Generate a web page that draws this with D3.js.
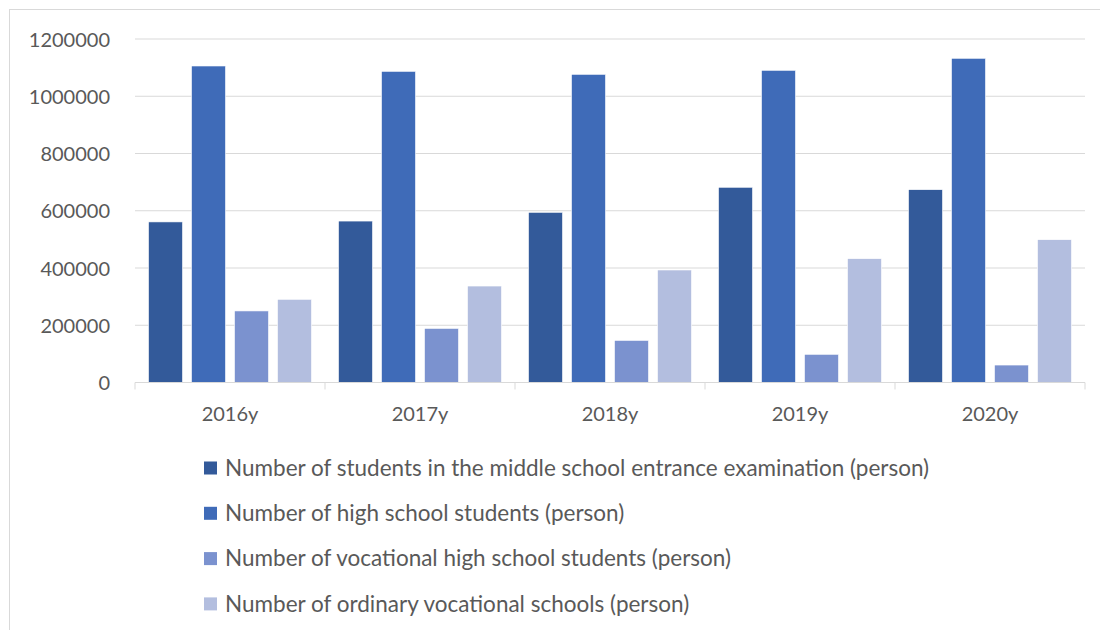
<!DOCTYPE html>
<html>
<head>
<meta charset="utf-8">
<script src="https://cdn.jsdelivr.net/npm/d3@7"></script>
<style>
  body { margin: 0; background: #fff; }
  text { font-family: Lato, "Open Sans", sans-serif; fill: #595959; }
</style>
</head>
<body>
<div id="chart"></div>
<script>
const years = ["2016y", "2017y", "2018y", "2019y", "2020y"];
const seriesNames = [
  "Number of students in the middle school entrance examination (person)",
  "Number of high school students (person)",
  "Number of vocational high school students (person)",
  "Number of ordinary vocational schools (person)"
];
const entranceExam = [561000, 564000, 594500, 682000, 673600];
const highSchool = [1105700, 1087000, 1076600, 1090600, 1132600];
const vocationalHigh = [250000, 189000, 147000, 98500, 61000];
const ordinaryVocational = [290600, 337000, 393000, 432600, 498900];
const yTicks = [0, 200000, 400000, 600000, 800000, 1000000, 1200000];

const colors = ["#335A9A", "#3F6BB8", "#7B92CF", "#B3BEDF"];
const allSeries = [entranceExam, highSchool, vocationalHigh, ordinaryVocational];

const w = 1100, h = 630;
const plotLeft = 135, plotRight = 1085, plotTop = 39, plotBottom = 382.5;

const svg = d3.select("#chart")
  .append("svg")
  .attr("width", w)
  .attr("height", h);

// outer chart border
svg.append("rect")
  .attr("x", 9.5).attr("y", 9.5)
  .attr("width", w + 20).attr("height", h + 20)
  .attr("fill", "none")
  .attr("stroke", "#D9D9D9");

const yScale = d3.scaleLinear()
  .domain([0, 1200000])
  .range([plotBottom, plotTop]);

const xScale = d3.scaleBand()
  .domain(years)
  .range([plotLeft, plotRight]);

const groupPad = 13.5;
const innerScale = d3.scaleBand()
  .domain(d3.range(seriesNames.length))
  .range([groupPad, xScale.bandwidth() - groupPad])
  .paddingInner(0.209)
  .paddingOuter(0);

// gridlines
svg.append("g")
  .selectAll("line")
  .data(yTicks.filter(d => d > 0))
  .join("line")
  .attr("x1", plotLeft).attr("x2", plotRight)
  .attr("y1", d => yScale(d)).attr("y2", d => yScale(d))
  .attr("stroke", "#D9D9D9")
  .attr("stroke-width", 1);

// y axis labels
const yAxis = d3.axisLeft(yScale)
  .tickValues(yTicks)
  .tickFormat(d3.format("d"))
  .tickSize(0)
  .tickPadding(0);

svg.append("g")
  .attr("transform", "translate(110,0)")
  .call(yAxis)
  .call(g => g.select(".domain").remove())
  .call(g => g.selectAll("text")
    .style("font-size", "20px")
    .attr("fill", "#595959")
    .attr("dy", "0.35em"));

// bars
const rows = years.map((y, i) => ({ year: y, values: allSeries.map(s => s[i]) }));

svg.append("g")
  .selectAll("g")
  .data(rows)
  .join("g")
  .attr("transform", d => "translate(" + xScale(d.year) + ",0)")
  .selectAll("rect")
  .data(d => d.values.map((v, k) => ({ k: k, v: v })))
  .join("rect")
  .attr("x", d => innerScale(d.k))
  .attr("width", innerScale.bandwidth())
  .attr("y", d => yScale(d.v))
  .attr("height", d => yScale(0) - yScale(d.v))
  .attr("fill", d => colors[d.k])
  .attr("stroke", "#fff")
  .attr("stroke-width", 0.6);

// x axis
const xAxis = d3.axisBottom(xScale)
  .tickSize(0)
  .tickPadding(24);

svg.append("g")
  .attr("transform", "translate(0," + plotBottom + ")")
  .call(xAxis)
  .call(g => g.select(".domain").attr("stroke", "#D9D9D9").attr("d", "M" + plotLeft + ",0H" + plotRight))
  .call(g => g.selectAll("text").style("font-size", "20px").attr("fill", "#595959"));

// category boundary ticks
svg.append("g")
  .selectAll("line")
  .data(years.map(y => xScale(y)).concat([plotRight]))
  .join("line")
  .attr("x1", d => d).attr("x2", d => d)
  .attr("y1", plotBottom).attr("y2", plotBottom + 7)
  .attr("stroke", "#D9D9D9");

// legend
const legend = svg.append("g")
  .selectAll("g")
  .data(seriesNames)
  .join("g")
  .attr("transform", (d, i) => "translate(204," + (468 + i * 45.3) + ")");

legend.append("rect")
  .attr("x", 0).attr("y", -6.5)
  .attr("width", 13).attr("height", 13)
  .attr("fill", (d, i) => colors[i]);

legend.append("text")
  .attr("x", 21)
  .attr("dy", "0.35em")
  .style("font-size", "22.5px")
  .text(d => d);
</script>
</body>
</html>
